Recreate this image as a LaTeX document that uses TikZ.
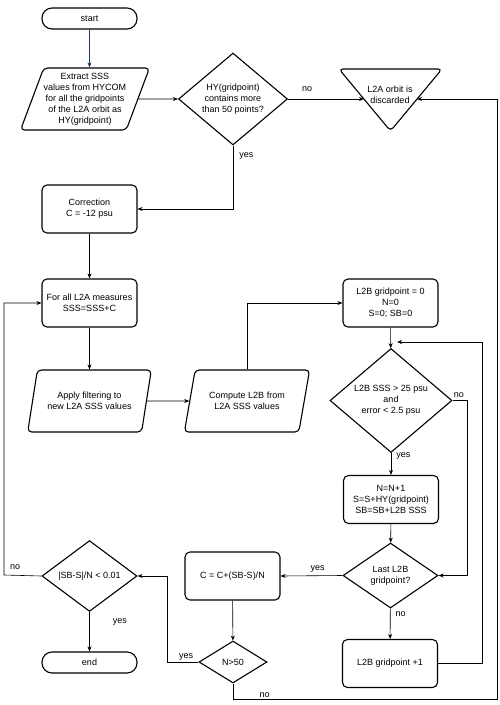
\documentclass[tikz,border=0pt]{standalone}
\usepackage{fontspec}
\setmainfont{Liberation Sans}
\usetikzlibrary{arrows.meta,shapes.geometric,calc}
\definecolor{startblue}{RGB}{31,56,100}

\begin{document}
\begin{tikzpicture}
  [x=1pt, y=-1pt,
  every node/.style={font=\fontsize{9}{11}\selectfont, align=center},
  term/.style={draw, line width=1.1pt, rounded corners=10pt, minimum width=95pt, minimum height=21pt},
  proc/.style={draw, line width=1.1pt, rounded corners=5pt, minimum width=95pt, minimum height=48pt},
  io/.style={draw, line width=1.1pt, trapezium, trapezium left angle=66, trapezium right angle=114,
    trapezium stretches=true, rounded corners=4pt, minimum width=124pt, minimum height=62pt, inner sep=0pt},
  dec/.style={draw, line width=1.1pt, diamond, inner sep=0pt},
  ]
  \tikzstyle{line}=[draw, line width=0.6pt, black]
  \tikzstyle{arr}=[line, -{Stealth[length=5pt,width=4pt]}]
  \tikzstyle{lbl}=[inner sep=1pt]

  \useasboundingbox (0,0) rectangle (500,705);

  % left column
  \node[term] (start) at (89.5,18.5) {start};
  \node[io] (extract) at (85,99) {Extract SSS\\values from HYCOM\\for all the gridpoints\\of the L2A orbit as\\HY(gridpoint)};
  \node[dec, minimum width=109pt, minimum height=82pt] (hy) at (233,99) {HY(gridpoint)\\contains more\\than 50 points?};
  \node (disc) at (390,94.5) {L2A orbit is\\discarded};
  \draw[line width=1.1pt, rounded corners=4pt] (339,69) -- (442,69) -- (390.5,131) -- cycle;
  \coordinate (discL) at (364,99);
  \coordinate (discR) at (417,99);
  \node[proc] (corr) at (89.5,209) {Correction\\C = -12 psu};
  \node[proc] (forall) at (89.5,303) {For all L2A measures\\SSS=SSS+C};
  \node[io] (apply) at (89.5,401) {Apply filtering to\\new L2A SSS values};
  \node[io, minimum width=126pt] (comp) at (247,401) {Compute L2B from\\L2A SSS values};

  % right column
  \node[proc] (init) at (390.5,303) {L2B gridpoint = 0\\N=0\\S=0; SB=0};
  \node[dec, minimum width=122pt, minimum height=85pt] (chk) at (391,400.5) {L2B SSS > 25 psu\\and\\error < 2.5 psu};
  \node[proc] (acc) at (391,499.5) {N=N+1\\S=S+HY(gridpoint)\\SB=SB+L2B SSS};
  \node[dec, minimum width=95pt, minimum height=65pt] (last) at (390.5,575.5) {Last L2B\\gridpoint?};
  \node[proc] (next) at (390,663.5) {L2B gridpoint +1};

  % bottom
  \node[proc] (upd) at (232.5,576) {C = C+(SB-S)/N};
  \node[dec, minimum width=68pt, minimum height=42pt] (n50) at (233,662) {N>50};
  \node[dec, minimum width=95pt, minimum height=66pt] (conv) at (89.5,576) {|SB-S|/N < 0.01};
  \node[term] (end) at (89.5,662.5) {end};

  \coordinate (loopin) at (397,342);
  \coordinate (loopR) at (482,342);
  \coordinate (botR) at (497,699);
  \coordinate (leftX) at (4,575);

  % connectors
  \draw[arr, startblue] (start) -- (start |- extract.north);
  \draw[arr] (extract.east) -- (hy.west);
  \draw[arr] (hy.east) -- node[lbl, above=6pt, pos=0.25]{no} (discL);
  \draw[arr] (hy.south) |- node[lbl, right=5pt, pos=0.08]{yes} (corr.east);
  \draw[arr] (corr) -- (forall);
  \draw[arr] (forall) -- (apply);
  \draw[arr] (apply.east) -- (comp.west);
  \draw[arr] (comp.north) |- (init.west);
  \draw[arr] (init) -- (chk);
  \draw[arr] (chk.east) node[lbl, above right, yshift=2pt]{no} -- ++(15,0) |- (last.east);
  \draw[arr] (chk) -- node[lbl, right=4pt, pos=0.12]{yes} (acc);
  \draw[arr] (acc) -- (last);
  \draw[arr] (last.west) -- node[lbl, above=2pt, pos=0.4]{yes} (upd.east);
  \draw[arr] (last) -- node[lbl, right=4pt, pos=0.2]{no} (next);
  \draw[arr] (next.east) -| (loopR) -- (loopin);
  \draw[arr] (upd) -- (n50);
  \draw[arr] (n50.west) -- node[lbl, above, pos=0.4]{yes} ++(-31,0) |- (conv.east);
  \draw[arr] (n50.south) |- node[lbl, above, pos=0.56]{no} (botR) |- (discR);
  \draw[arr] (conv.west) -- node[lbl, above=4pt, pos=0.7]{no} (leftX) |- (forall.west);
  \draw[arr] (conv) -- node[lbl, right=22pt, pos=0.25]{yes} (end);
\end{tikzpicture}
\end{document}
